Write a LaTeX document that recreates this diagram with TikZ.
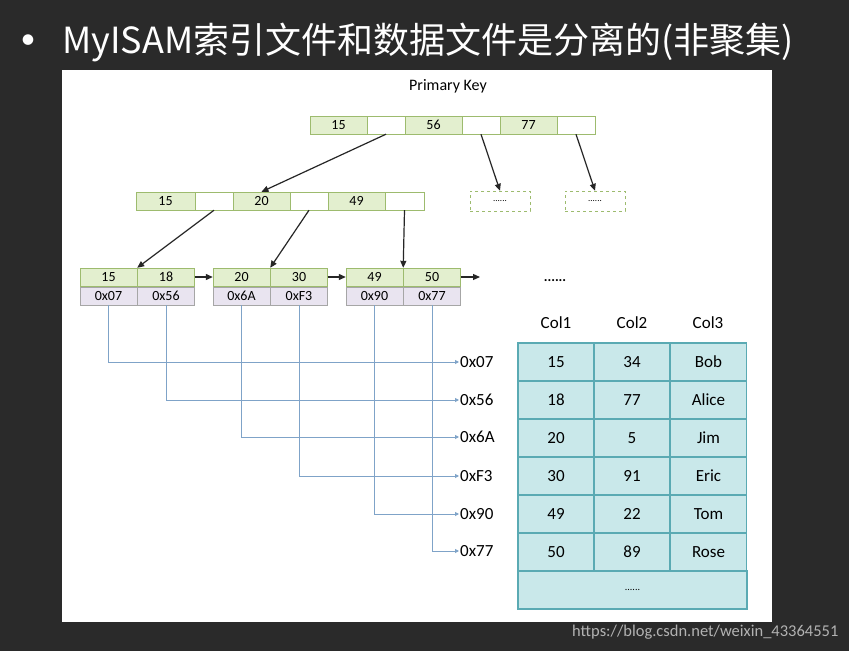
\documentclass[tikz,border=0pt]{standalone}
\usepackage{fontspec}
\setmainfont{Carlito}
\newfontfamily\cjk{Noto Sans CJK SC}
\usetikzlibrary{arrows.meta}
\definecolor{bg}{HTML}{2A2A2A}
\definecolor{kg}{HTML}{E3EFCF}
\definecolor{kb}{HTML}{9DBB6E}
\definecolor{pl}{HTML}{E9E4F0}
\definecolor{tf}{HTML}{C9E8EA}
\definecolor{tb}{HTML}{5AAAB3}
\definecolor{ln}{HTML}{7FA3C8}
\tikzset{
 key/.style={draw=kb,fill=kg,minimum height=18pt,inner sep=0pt,font=\fontsize{14}{14}\selectfont},
 ptr/.style={draw=kb,fill=white,minimum height=18pt,inner sep=0pt},
 addr/.style={draw=gray!70,fill=pl,minimum height=18pt,inner sep=0pt,font=\fontsize{14}{14}\selectfont},
 arr/.style={-{Triangle[length=7pt,width=6pt]},line width=1.2pt,black!85},
 lk/.style={ln,line width=0.9pt,-{Triangle[length=4pt,width=4pt]}},
 cell/.style={draw=tb,fill=tf,line width=1.2pt,minimum width=76pt,minimum height=38pt,inner sep=0pt,font=\fontsize{17}{17}\selectfont},
 dsh/.style={draw=kb,dashed,minimum width=60pt,minimum height=20pt,font=\fontsize{9}{9}\selectfont},
 hl/.style={font=\fontsize{17}{17}\selectfont,anchor=west,inner sep=1pt}
}
\begin{document}
\begin{tikzpicture}[x=1pt,y=-1pt]
\fill[bg] (0,0) rectangle (849,651);
\fill[white] (62,70) rectangle (772,622);
\node[white,font=\fontsize{30}{30}\selectfont] (b) at (28,42) {•};
\node[white,anchor=west,font=\cjk\fontsize{36}{36}\selectfont,inner sep=0pt] (t) at (62,42) {MyISAM索引文件和数据文件是分离的(非聚集)};
\node[font=\fontsize{16}{16}\selectfont] (pk) at (448,86) {Primary Key};
% top
\node[key,minimum width=57pt] (r1) at (338.5,125) {15};
\node[ptr,minimum width=38pt] (r1p) at (386,125) {};
\node[key,minimum width=57pt] (r2) at (433.5,125) {56};
\node[ptr,minimum width=38pt] (r2p) at (481,125) {};
\node[key,minimum width=57pt] (r3) at (528.5,125) {77};
\node[ptr,minimum width=38pt] (r3p) at (576,125) {};
\node[dsh] (d1) at (500,201) {......};
\node[dsh] (d2) at (595,201) {......};
% level2
\node[key,minimum width=59pt] (m1) at (165.5,201) {15};
\node[ptr,minimum width=38pt] (m1p) at (214,201) {};
\node[key,minimum width=57pt] (m2) at (261.5,201) {20};
\node[ptr,minimum width=38pt] (m2p) at (309,201) {};
\node[key,minimum width=57pt] (m3) at (356.5,201) {49};
\node[ptr,minimum width=39pt] (m3p) at (404.5,201) {};
\draw[arr] (r1p.south) -- (m2.north);
\draw[arr] (r2p.south) -- (d1.north);
\draw[arr] (r3p.south) -- (d2.north);
% leaves
\foreach \n/\x/\a/\b/\c/\d in {1/80/15/18/0x07/0x56, 2/213/20/30/0x6A/0xF3, 3/346/49/50/0x90/0x77}{
 \node[key,minimum width=57pt] (l\n a) at (\x+28.5,277) {\a};
 \node[key,minimum width=57pt] (l\n b) at (\x+86,277) {\b};
 \node[addr,minimum width=57pt] (l\n c) at (\x+28.5,296) {\c};
 \node[addr,minimum width=57pt] (l\n d) at (\x+86,296) {\d};
}
\draw[arr] (m1p.south) -- (l1a.north east);
\draw[arr] (m2p.south) -- (l2a.north east);
\draw[arr] (m3p.south) -- (l3a.north east);
\coordinate (e) at (480,277);
\draw[arr] (l1b.east) -- (l2a.west);
\draw[arr] (l2b.east) -- (l3a.west);
\draw[arr] (l3b.east) -- (e);
\node[font=\fontsize{14}{14}\selectfont\bfseries] (dots) at (555,281) {......};
% address lines
\foreach \s/\y/\lab [count=\i] in {l1c/362/0x07, l1d/400/0x56, l2c/437/0x6A, l2d/476/0xF3, l3c/514/0x90, l3d/551/0x77}{
 \node[hl] (h\i) at (459,\y) {\lab};
 \draw[lk] (\s.south) |- (h\i.west);
}
% table
\foreach \c/\x in {Col1/556,Col2/632,Col3/708}{
 \node[font=\fontsize{17}{17}\selectfont] (\c) at (\x,323) {\c};
}
\foreach \a/\b/\c [count=\i] in {15/34/Bob,18/77/Alice,20/5/Jim,30/91/Eric,49/22/Tom,50/89/Rose}{
 \node[cell] (t\i a) at (556,343+38*\i-19) {\a};
 \node[cell] (t\i b) at (632,343+38*\i-19) {\b};
 \node[cell] (t\i c) at (708.5,343+38*\i-19) {\c};
}
\node[cell,minimum width=229pt,font=\fontsize{10}{10}\selectfont] (tl) at (632.5,590) {......};
\node[gray!60,font=\fontsize{16.5}{16.5}\selectfont,anchor=east] (w) at (842,632) {https://blog.csdn.net/weixin\_43364551};
\end{tikzpicture}
\end{document}
